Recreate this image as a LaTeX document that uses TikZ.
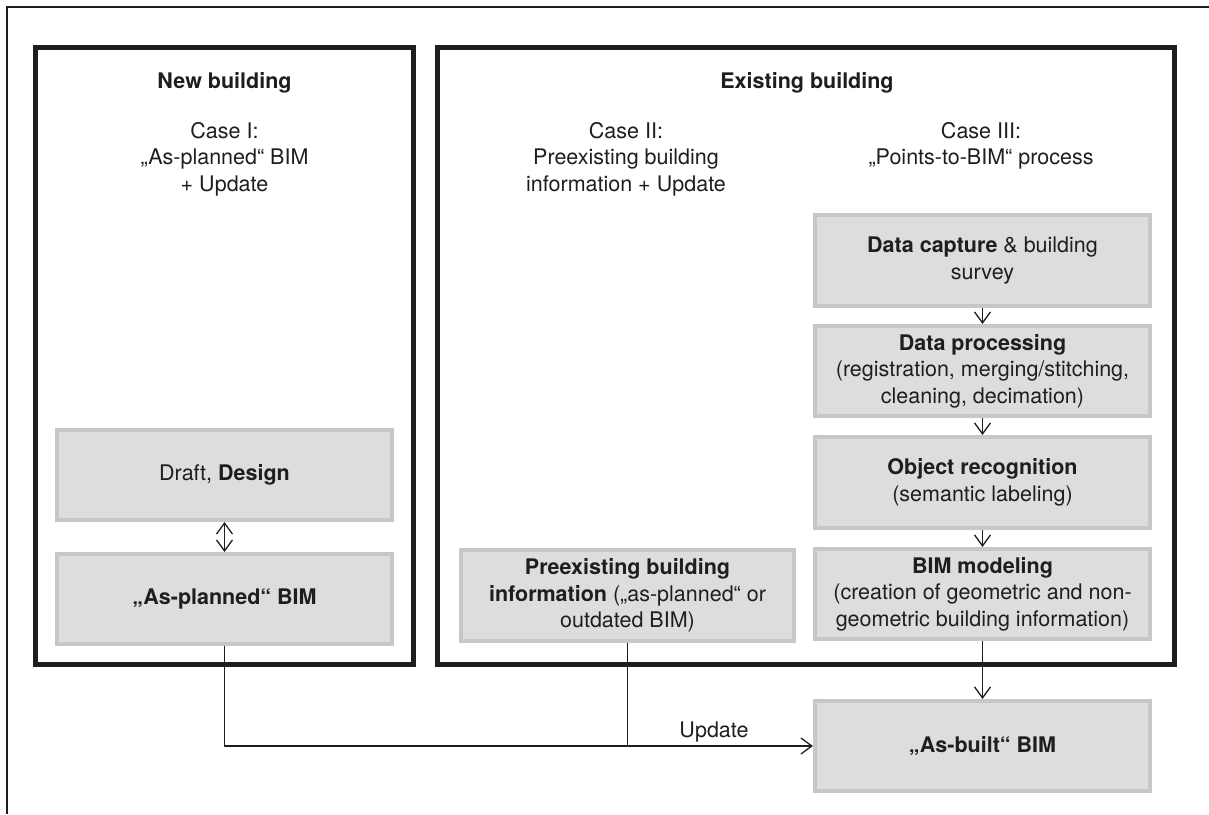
\documentclass[tikz,border=0pt]{standalone}
\usepackage{fontspec}
\setmainfont{TeX Gyre Heros}
\usetikzlibrary{arrows.meta}
\definecolor{boxfill}{HTML}{DCDDDF}
\definecolor{boxline}{HTML}{C6C7C9}
\definecolor{ink}{HTML}{1E1E1E}
\begin{document}
\begin{tikzpicture}[x=1pt,y=-1pt,
  every node/.style={font=\fontsize{21.5}{26.5}\selectfont, text=ink},
  bf/.style={font=\fontsize{21.5}{26.5}\selectfont\bfseries},
  gbox/.style={draw=boxline, fill=boxfill, line width=4pt, inner sep=0pt, align=center, minimum width=335pt, minimum height=90pt},
  frame/.style={draw=ink, line width=5pt, inner sep=0pt},
  conn/.style={draw=ink, line width=1.3pt},
  arr/.style={conn, -{Straight Barb[length=11pt,width=16pt]}},
  darr/.style={conn, {Straight Barb[length=11pt,width=16pt]}-{Straight Barb[length=11pt,width=16pt]}}
]
\useasboundingbox (0,0) rectangle (1209,814);
% outer frame (cropped)
\draw[ink, line width=1.6pt] (1209,7) -- (7,7) -- (7,814);

% building frames
\node[frame, minimum width=378pt, minimum height=617pt] (newb) at (224.5,356) {};
\node[frame, minimum width=737pt, minimum height=617pt] (exb) at (806,356) {};

% titles
\node[bf, anchor=base] (tnew) at (224.5,88) {New building};
\node[bf, anchor=base] (tex) at (807,88) {Existing building};
\node[align=center] (case1) at (224.5,159) {Case I:\\„As-planned“ BIM\\+ Update};
\node[align=center] (case2) at (626,159) {Case II:\\Preexisting building\\information + Update};
\node[align=center] (case3) at (981,146) {Case III:\\„Points-to-BIM“ process};

% left column
\node[gbox] (design) at (224.5,475) {Draft, \textbf{Design}};
\node[gbox] (asplanned) at (224.5,599) {\textbf{„As-planned“ BIM}};

% middle
\node[gbox, minimum width=333pt, minimum height=91pt] (preex) at (627.5,595.5)
  {\textbf{Preexisting building}\\\textbf{information} („as-planned“ or\\outdated BIM)};

% right column
\node[gbox, minimum height=91pt] (datacap) at (982.5,260.5) {\textbf{Data capture} \& building\\survey};
\node[gbox] (dataproc) at (982.5,371) {\textbf{Data processing}\\(registration, merging/stitching,\\cleaning, decimation)};
\node[gbox, minimum height=91pt] (objrec) at (982.5,482.5) {\textbf{Object recognition}\\(semantic labeling)};
\node[gbox] (bimmod) at (982.5,594) {\textbf{BIM modeling}\\(creation of geometric and non-\\geometric building information)};
\node[gbox] (asbuilt) at (982.5,746) {\textbf{„As-built“ BIM}};

% connectors
\draw[darr] (design.south) -- (asplanned.north);
\draw[arr] (datacap.south) -- (dataproc.north);
\draw[arr] (dataproc.south) -- (objrec.north);
\draw[arr] (objrec.south) -- (bimmod.north);
\draw[arr] (bimmod.south) -- (asbuilt.north);
\draw[arr] (asplanned.south) |- (asbuilt.west);
\draw[conn] (preex.south) -- (preex.south |- asbuilt.west);
\node (upd) at (714,732) {Update};
\end{tikzpicture}
\end{document}
